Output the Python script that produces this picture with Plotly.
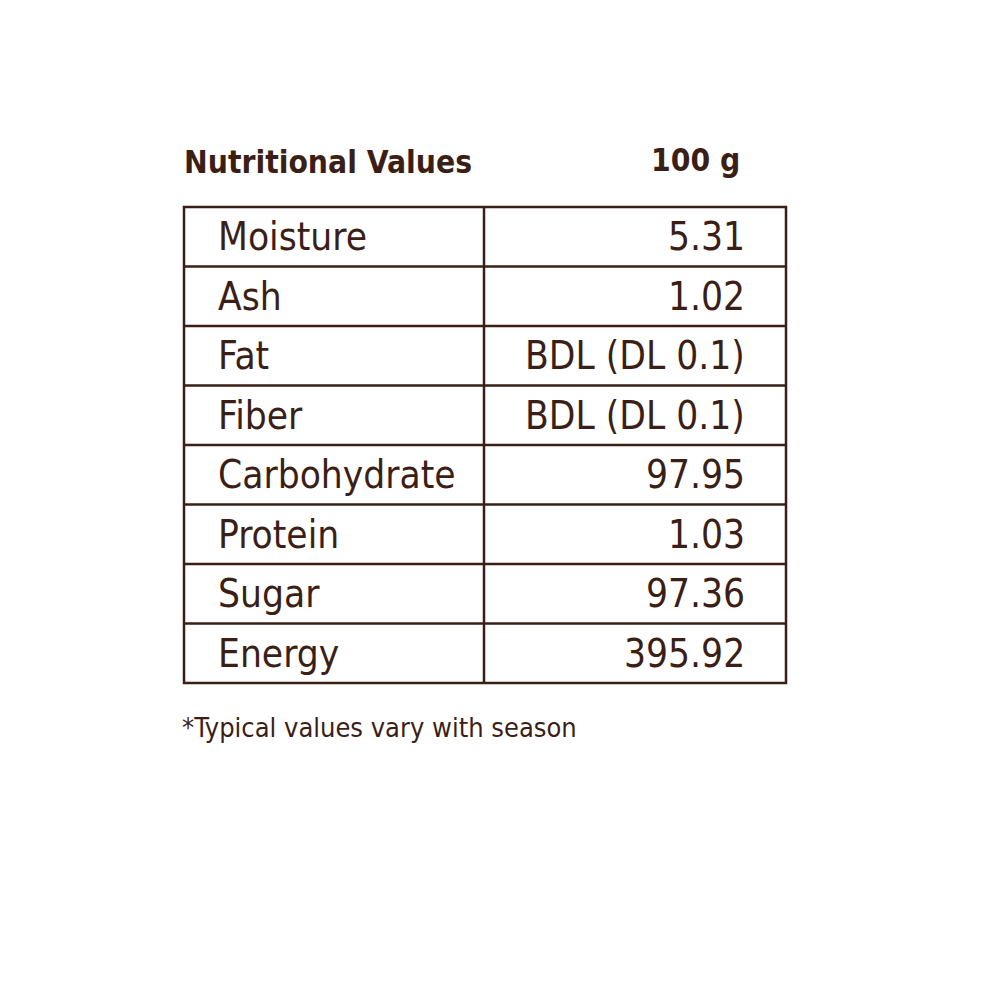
import plotly.graph_objects as go

title_left = "Nutritional Values"
title_right = "100 g"
nutrients = ["Moisture", "Ash", "Fat", "Fiber", "Carbohydrate", "Protein", "Sugar", "Energy"]
values = ["5.31", "1.02", "BDL (DL 0.1)", "BDL (DL 0.1)", "97.95", "1.03", "97.36", "395.92"]
footnote = "*Typical values vary with season"

C = "#3b1f16"
FONT = "DejaVu Sans Condensed, Liberation Sans Narrow, Roboto Condensed, sans-serif"
x0, xm, x1 = 184, 484, 786
y0, rh = 207, 59.5
n = len(nutrients)

fig = go.Figure()
shapes = []
shapes.append(dict(type="rect", x0=x0, x1=x1, y0=y0, y1=y0 + n * rh, line=dict(color=C, width=2.5)))
shapes.append(dict(type="line", x0=xm, x1=xm, y0=y0, y1=y0 + n * rh, line=dict(color=C, width=2.5)))
for i in range(1, n):
    shapes.append(dict(type="line", x0=x0, x1=x1, y0=y0 + i * rh, y1=y0 + i * rh, line=dict(color=C, width=2.5)))

ann = []
for i, (k, v) in enumerate(zip(nutrients, values)):
    yc = y0 + (i + 0.5) * rh
    ann.append(dict(x=216, y=yc, text=k, xanchor="left", yanchor="middle", showarrow=False,
                    font=dict(family=FONT, size=38.5, color=C)))
    ann.append(dict(x=747, y=yc, text=v, xanchor="right", yanchor="middle", showarrow=False,
                    font=dict(family=FONT, size=38.5, color=C)))
ann.append(dict(x=182, y=162, text="<b>" + title_left + "</b>", xanchor="left", yanchor="middle",
                showarrow=False, font=dict(family=FONT, size=31.5, color=C)))
ann.append(dict(x=742, y=160, text="<b>" + title_right + "</b>", xanchor="right", yanchor="middle",
                showarrow=False, font=dict(family=FONT, size=31.5, color=C)))
ann.append(dict(x=180, y=727, text=footnote, xanchor="left", yanchor="middle",
                showarrow=False, font=dict(family=FONT, size=27, color=C)))

fig.update_layout(width=1000, height=996, margin=dict(l=0, r=0, t=0, b=0),
                  paper_bgcolor="white", plot_bgcolor="white", shapes=shapes, annotations=ann,
                  xaxis=dict(range=[8, 1008], visible=False, fixedrange=True),
                  yaxis=dict(range=[1004, 8], visible=False, fixedrange=True), showlegend=False)
fig.write_html("out.html")
